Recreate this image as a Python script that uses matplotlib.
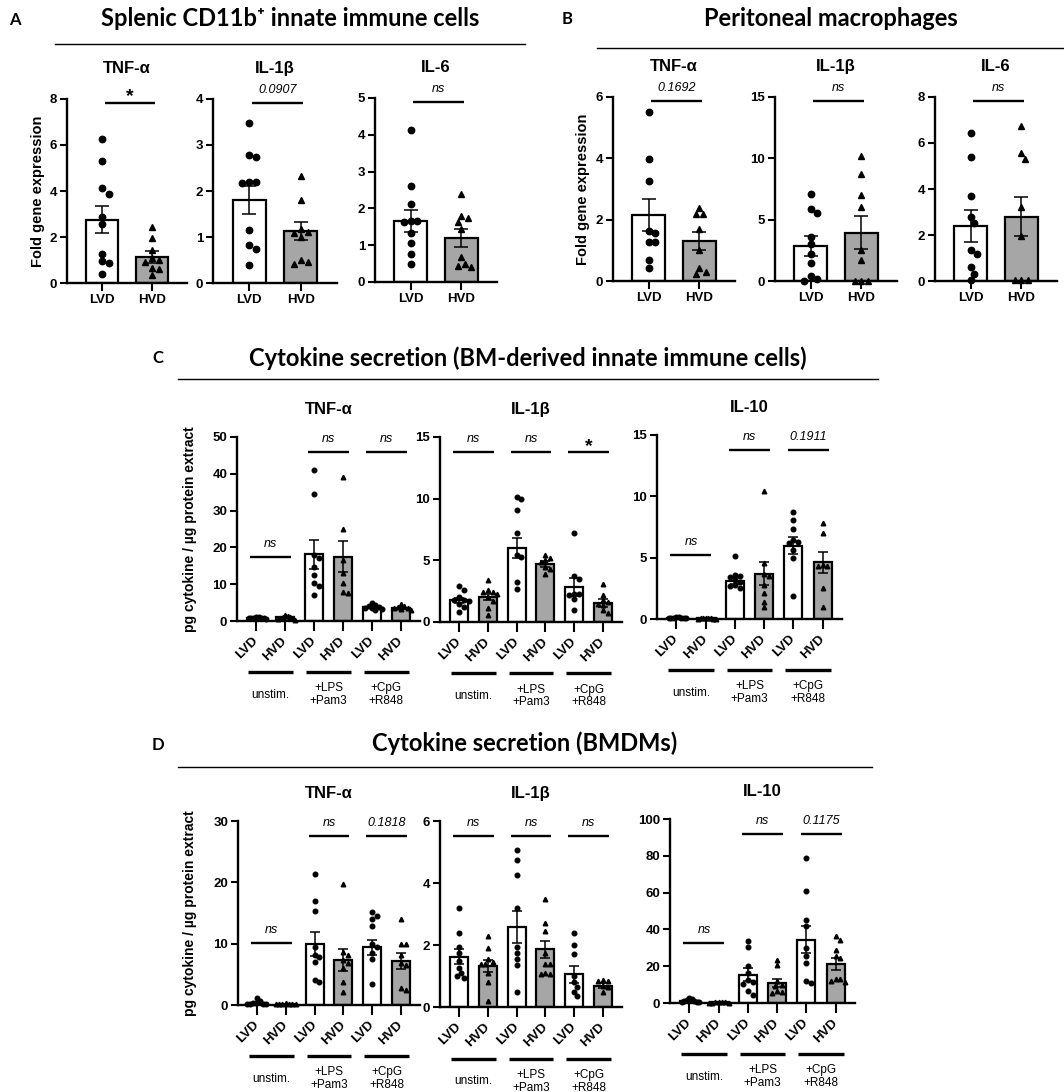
import numpy as np
import matplotlib.pyplot as plt
from matplotlib.lines import Line2D
from matplotlib.transforms import blended_transform_factory

plt.rcParams['font.family'] = ['Liberation Sans', 'DejaVu Sans']

W, H = 1064, 1092

# ---------------- data ----------------
GROUPS = ['LVD', 'HVD']
STIM = ['unstim.', '+LPS\n+Pam3', '+CpG\n+R848']

# Panel A - splenic CD11b+ innate immune cells (fold gene expression)
A_TNF_LVD = [6.27, 5.31, 4.14, 3.89, 2.87, 2.55, 1.28, 0.94, 0.89, 0.41]
A_TNF_HVD = [2.45, 1.95, 1.45, 1.10, 1.00, 0.90, 0.65, 0.62, 0.35]
A_TNF_MEAN = [2.76, 1.13]
A_TNF_SEM = [0.59, 0.27]

A_IL1B_LVD = [3.48, 2.78, 2.73, 2.20, 2.20, 2.18, 1.16, 0.83, 0.73, 0.40]
A_IL1B_HVD = [2.32, 1.81, 1.18, 1.10, 1.08, 1.00, 0.50, 0.45, 0.42]
A_IL1B_MEAN = [1.81, 1.13]
A_IL1B_SEM = [0.30, 0.20]

A_IL6_LVD = [4.14, 2.62, 2.12, 1.65, 1.65, 1.62, 1.32, 1.06, 0.75, 0.50]
A_IL6_HVD = [2.38, 1.80, 1.75, 1.62, 1.45, 0.68, 0.50, 0.43, 0.42]
A_IL6_MEAN = [1.66, 1.20]
A_IL6_SEM = [0.31, 0.25]

A_P = ['*', '0.0907', 'ns']

# Panel B - peritoneal macrophages (fold gene expression)
B_TNF_LVD = [5.51, 3.97, 3.27, 1.64, 1.55, 1.28, 1.28, 0.68, 0.44]
B_TNF_HVD = [2.39, 2.20, 2.20, 1.71, 1.00, 0.43, 0.30, 0.22]
B_TNF_MEAN = [2.15, 1.30]
B_TNF_SEM = [0.52, 0.29]

B_IL1B_LVD = [7.07, 5.90, 5.57, 3.59, 2.99, 2.23, 1.47, 0.38, 0.20, 0.00]
B_IL1B_HVD = [10.16, 8.70, 6.98, 6.03, 2.50, 1.68, 0.00, 0.00, 0.00]
B_IL1B_MEAN = [2.83, 3.94]
B_IL1B_SEM = [0.80, 1.33]

B_IL6_LVD = [6.43, 5.41, 3.71, 2.79, 2.50, 1.34, 1.19, 0.61, 0.32, 0.06]
B_IL6_HVD = [6.76, 5.56, 5.29, 3.23, 1.95, 0.03, 0.03, 0.03]
B_IL6_MEAN = [2.39, 2.79]
B_IL6_SEM = [0.70, 0.85]

B_P = ['0.1692', 'ns', 'ns']

# Panel C - BM-derived innate immune cells (pg cytokine / ug protein)
C_TNF_PTS = [
    [1.2, 1.0, 0.9, 0.9, 0.8, 0.8, 0.7, 0.6],
    [1.6, 1.4, 1.2, 1.0, 0.9, 0.7, 0.5, 0.4],
    [41.1, 34.5, 17.9, 17.0, 14.7, 12.5, 10.2, 9.5, 7.1],
    [39.0, 25.1, 16.7, 13.0, 10.4, 8.0, 7.5],
    [5.0, 4.4, 4.0, 3.8, 3.6, 3.5, 3.3, 3.0],
    [4.7, 4.2, 3.9, 3.6, 3.4, 3.3, 3.1],
]
C_TNF_MEAN = [0.9, 1.0, 18.1, 17.5, 3.7, 3.4]
C_TNF_SEM = [0.1, 0.15, 4.0, 4.2, 0.25, 0.2]
C_TNF_P = ['ns', 'ns', 'ns']

C_IL1B_PTS = [
    [2.9, 2.6, 2.0, 1.8, 1.8, 1.7, 1.5, 1.2, 0.8],
    [3.4, 2.6, 2.4, 2.4, 2.3, 2.0, 1.7, 1.1, 0.6],
    [10.1, 10.0, 9.05, 7.24, 5.4, 5.27, 3.24, 2.7],
    [5.4, 5.2, 5.0, 4.9, 4.5, 4.3, 3.9],
    [7.2, 3.7, 3.5, 2.3, 2.3, 2.2, 1.9, 0.95],
    [3.1, 2.2, 1.8, 1.6, 1.5, 1.35, 0.95, 0.7],
]
C_IL1B_MEAN = [1.76, 2.03, 6.0, 4.68, 2.84, 1.54]
C_IL1B_SEM = [0.22, 0.28, 0.85, 0.25, 0.75, 0.3]
C_IL1B_P = ['ns', 'ns', '*']

C_IL10_PTS = [
    [0.2, 0.15, 0.12, 0.1, 0.1, 0.08, 0.05, 0.05],
    [0.1, 0.08, 0.06, 0.05, 0.05, 0.04, 0.03, 0.02],
    [5.1, 3.6, 3.5, 3.4, 3.2, 3.0, 2.8, 2.7, 2.5],
    [10.4, 4.6, 3.7, 3.5, 2.8, 2.1, 1.4, 1.0],
    [8.7, 8.1, 7.3, 6.4, 6.3, 6.2, 5.6, 5.0, 1.9],
    [7.8, 7.05, 4.4, 4.3, 4.3, 2.5, 1.0],
]
C_IL10_MEAN = [0.1, 0.05, 3.12, 3.69, 5.99, 4.61]
C_IL10_SEM = [0.02, 0.01, 0.25, 0.95, 0.68, 0.85]
C_IL10_P = ['ns', 'ns', '0.1911']

# Panel D - BMDMs (pg cytokine / ug protein)
D_TNF_PTS = [
    [1.1, 0.6, 0.4, 0.3, 0.2, 0.2, 0.1, 0.1],
    [0.3, 0.2, 0.2, 0.15, 0.1, 0.1, 0.1],
    [21.4, 16.9, 15.3, 9.5, 8.1, 7.9, 7.0, 4.1, 3.8],
    [19.7, 8.7, 8.1, 7.3, 6.8, 6.0, 3.8, 2.2],
    [15.1, 14.5, 14.0, 12.9, 10.0, 9.4, 8.4, 7.5, 3.5],
    [14.1, 10.0, 9.9, 8.1, 6.9, 6.5, 2.7, 2.4],
]
D_TNF_MEAN = [0.4, 0.15, 9.93, 7.3, 9.4, 7.16]
D_TNF_SEM = [0.12, 0.03, 2.0, 1.75, 1.2, 1.25]
D_TNF_P = ['ns', 'ns', '0.1818']

D_IL1B_PTS = [
    [3.2, 2.4, 1.95, 1.75, 1.5, 1.25, 1.1, 1.0, 0.95],
    [2.3, 1.9, 1.55, 1.45, 1.4, 1.4, 1.1, 0.8, 0.2],
    [5.05, 4.75, 4.25, 3.2, 1.95, 1.75, 1.55, 1.35, 0.5],
    [3.5, 2.7, 2.45, 1.75, 1.4, 1.4, 1.1, 1.05, 1.05],
    [2.4, 2.0, 1.7, 1.0, 0.8, 0.65, 0.5, 0.35],
    [0.86, 0.85, 0.84, 0.67, 0.66, 0.5],
]
D_IL1B_MEAN = [1.62, 1.32, 2.59, 1.86, 1.05, 0.69]
D_IL1B_SEM = [0.24, 0.2, 0.52, 0.27, 0.27, 0.07]
D_IL1B_P = ['ns', 'ns', 'ns']

D_IL10_PTS = [
    [2.5, 2.0, 1.5, 1.2, 1.0, 0.8, 0.5, 0.3],
    [0.5, 0.4, 0.3, 0.3, 0.2, 0.2, 0.1],
    [33.8, 30.7, 19.9, 16.3, 12.7, 11.2, 10.5, 6.3, 4.5],
    [23.5, 20.8, 11.8, 10.0, 9.5, 6.3, 6.0, 5.5],
    [78.7, 60.6, 45.2, 41.6, 29.8, 25.7, 21.7, 11.8, 10.7],
    [36.2, 34.0, 28.6, 25.3, 24.4, 13.0, 12.8, 11.8, 11.5],
]
D_IL10_MEAN = [1.2, 0.3, 15.4, 10.8, 34.4, 21.3]
D_IL10_SEM = [0.3, 0.05, 3.5, 2.3, 7.2, 3.3]
D_IL10_P = ['ns', 'ns', '0.1175']

BAR_COLORS = ['white', '#a6a6a6']
MARKERS = ['o', '^']
HEAD_FONT = ['Lato', 'DejaVu Sans']


def make_axes(fig, x0, y0, x1, y1):
    # box given in pixels of the 1064x1092 canvas
    return fig.add_axes([x0 / W, 1 - y1 / H, (x1 - x0) / W, (y1 - y0) / H])


def base_style(ax, ymax, step):
    ax.spines[['top', 'right']].set_visible(False)
    ax.spines[['left', 'bottom']].set_linewidth(1.7)
    ax.set_ylim(0, ymax)
    ticks = np.arange(0, ymax + step * 0.5, step)
    ax.set_yticks(ticks, [f'{t:g}' for t in ticks], fontweight='bold', fontsize=9.5)
    ax.tick_params(axis='y', width=1.5, length=5, pad=2)
    ax.tick_params(axis='x', width=1.5, length=6, pad=2)
    ax.patch.set_alpha(0)


def swarm(ax, xc, vals, ms, half_px):
    # simple beeswarm: spread points that would overlap, then squeeze into the bar
    d = ms * ax.figure.dpi / 72 * 1.05
    ys = ax.transData.transform(np.column_stack([np.full(len(vals), xc), vals]))[:, 1]
    offs = np.zeros(len(vals))
    placed = []
    cands = [0.0]
    for k in range(1, 30):
        cands += [k * d * 0.5, -k * d * 0.5]
    for i in np.argsort(vals)[::-1]:
        for c in cands:
            if all((c - px) ** 2 + (ys[i] - py) ** 2 >= d * d for px, py in placed):
                break
        placed.append((c, ys[i]))
        offs[i] = c
    if np.abs(offs).max() > half_px:
        offs *= half_px / np.abs(offs).max()
    ppu = ax.transData.transform((1, 0))[0] - ax.transData.transform((0, 0))[0]
    return xc + offs / ppu


def draw_bars(ax, pts_list, means, sems, width, ms, capsize, half_px):
    xs = np.arange(len(means))
    ax.bar(xs, means, width=width, color=[BAR_COLORS[i % 2] for i in xs],
           edgecolor='black', linewidth=1.6, zorder=2)
    for i, pts in enumerate(pts_list):
        xj = swarm(ax, xs[i], pts, ms, half_px)
        ax.plot(xj, pts, ls='none', marker=MARKERS[i % 2], ms=ms, color='black',
                zorder=3, clip_on=False)
    ax.errorbar(xs, means, yerr=sems, fmt='none', ecolor='black', elinewidth=1.1,
                capsize=capsize, capthick=1.1, zorder=4)


def add_sig(ax, x0, x1, frac, label):
    tr = blended_transform_factory(ax.transData, ax.transAxes)
    ax.plot([x0, x1], [frac, frac], transform=tr, color='black', lw=1.7,
            clip_on=False, solid_capstyle='butt')
    if label == '*':
        ax.text((x0 + x1) / 2, frac + 0.008, '*', transform=tr, ha='center',
                va='baseline', fontsize=14, fontweight='bold')
    else:
        ax.text((x0 + x1) / 2, frac + 0.07, label, transform=tr, ha='center',
                va='center', fontsize=9, fontstyle='italic')


def add_title(ax, name, y):
    ax.text(0.5, y, name, transform=ax.transAxes, ha='center', va='center',
            fontsize=12, fontweight='bold')


fig = plt.figure(figsize=(W / 100, H / 100), dpi=100)

# ---------- panels A and B ----------
two_group = [
    ((67, 99, 187, 283), 'TNF-α', A_TNF_LVD, A_TNF_HVD, A_TNF_MEAN, A_TNF_SEM, 8, 2, A_P[0]),
    ((213, 99, 337, 283), 'IL-1β', A_IL1B_LVD, A_IL1B_HVD, A_IL1B_MEAN, A_IL1B_SEM, 4, 1, A_P[1]),
    ((375, 98, 497, 282), 'IL-6', A_IL6_LVD, A_IL6_HVD, A_IL6_MEAN, A_IL6_SEM, 5, 1, A_P[2]),
    ((613, 97, 735, 281), 'TNF-α', B_TNF_LVD, B_TNF_HVD, B_TNF_MEAN, B_TNF_SEM, 6, 2, B_P[0]),
    ((775, 97, 897, 281), 'IL-1β', B_IL1B_LVD, B_IL1B_HVD, B_IL1B_MEAN, B_IL1B_SEM, 15, 5, B_P[1]),
    ((935, 97, 1057, 281), 'IL-6', B_IL6_LVD, B_IL6_HVD, B_IL6_MEAN, B_IL6_SEM, 8, 2, B_P[2]),
]
for box, name, lvd, hvd, mean, sem, ymax, step, p in two_group:
    ax = make_axes(fig, *box)
    base_style(ax, ymax, step)
    ax.set_xlim(-0.7, 1.7)
    draw_bars(ax, [lvd, hvd], mean, sem, 0.64, 4.6, 5, 16)
    ax.set_xticks([0, 1], GROUPS, fontweight='bold', fontsize=9.5)
    add_sig(ax, 0.05, 1.05, 0.978, p)
    add_title(ax, name, 1.168)

# ---------- panels C and D ----------
six_group = [
    ((237, 437, 420, 621), 'TNF-α', C_TNF_PTS, C_TNF_MEAN, C_TNF_SEM, 50, 10, C_TNF_P, 0.348),
    ((440, 437, 622, 622), 'IL-1β', C_IL1B_PTS, C_IL1B_MEAN, C_IL1B_SEM, 15, 5, C_IL1B_P, None),
    ((657, 435, 842, 619), 'IL-10', C_IL10_PTS, C_IL10_MEAN, C_IL10_SEM, 15, 5, C_IL10_P, 0.348),
    ((238, 821, 420, 1005), 'TNF-α', D_TNF_PTS, D_TNF_MEAN, D_TNF_SEM, 30, 10, D_TNF_P, 0.337),
    ((440, 821, 622, 1007), 'IL-1β', D_IL1B_PTS, D_IL1B_MEAN, D_IL1B_SEM, 6, 2, D_IL1B_P, None),
    ((670, 819, 855, 1003), 'IL-10', D_IL10_PTS, D_IL10_MEAN, D_IL10_SEM, 100, 20, D_IL10_P, 0.326),
]
for box, name, pts, mean, sem, ymax, step, ps, low in six_group:
    ax = make_axes(fig, *box)
    base_style(ax, ymax, step)
    ax.set_xlim(-0.66, 5.66)
    draw_bars(ax, pts, mean, sem, 0.62, 3.3, 3.5, 10)
    ax.set_xticks(range(6), GROUPS * 3, fontweight='bold', fontsize=9.5,
                  rotation=45, ha='right', va='center', rotation_mode='anchor')
    ax.tick_params(axis='x', length=7, pad=6)
    for g, p in enumerate(ps):
        frac = low if (g == 0 and low is not None) else 0.918
        add_sig(ax, 2 * g - 0.2, 2 * g + 1.2, frac, p)
    tr = blended_transform_factory(ax.transData, ax.transAxes)
    for g, lab in enumerate(STIM):
        ax.plot([2 * g - 0.28, 2 * g + 1.28], [-0.277, -0.277], transform=tr,
                color='black', lw=2.4, clip_on=False, solid_capstyle='butt')
        ax.text(2 * g + 0.5, -0.40, lab, transform=tr, ha='center', va='center',
                fontsize=8.5, linespacing=1.05)
    add_title(ax, name, 1.15)

# ---------- y labels ----------
fig.text(38 / W, 1 - 191 / H, 'Fold gene expression', rotation=90, ha='center',
         va='center', fontsize=10.5, fontweight='bold')
fig.text(583 / W, 1 - 189 / H, 'Fold gene expression', rotation=90, ha='center',
         va='center', fontsize=10.5, fontweight='bold')
fig.text(190 / W, 1 - 529 / H, 'pg cytokine / µg protein extract', rotation=90,
         ha='center', va='center', fontsize=10, fontweight='bold')
fig.text(190 / W, 1 - 913 / H, 'pg cytokine / µg protein extract', rotation=90,
         ha='center', va='center', fontsize=10, fontweight='bold')

# ---------- section headers (centred over their rules) ----------
headers = [
    ('A', 15, 20, 'Splenic CD11b⁺ innate immune cells', 18, 55, 525, 44),
    ('B', 567, 19, 'Peritoneal macrophages', 18, 597, 1064, 48),
    ('C', 158, 358, 'Cytokine secretion (BM-derived innate immune cells)', 358, 178, 878, 379),
    ('D', 158, 745, 'Cytokine secretion (BMDMs)', 743, 178, 872, 767),
]
for letter, lx, ly, text, ty, x0, x1, yl in headers:
    fig.text(lx / W, 1 - ly / H, letter, ha='center', va='center', fontsize=12,
             fontweight='bold', family=HEAD_FONT)
    fig.text((x0 + x1) / 2 / W, 1 - ty / H, text, ha='center', va='center',
             fontsize=17, fontweight='bold', family=HEAD_FONT)
    fig.add_artist(Line2D([x0 / W, x1 / W], [1 - yl / H, 1 - yl / H],
                          color='black', lw=1.0))

fig.savefig('out.png', dpi=100)
